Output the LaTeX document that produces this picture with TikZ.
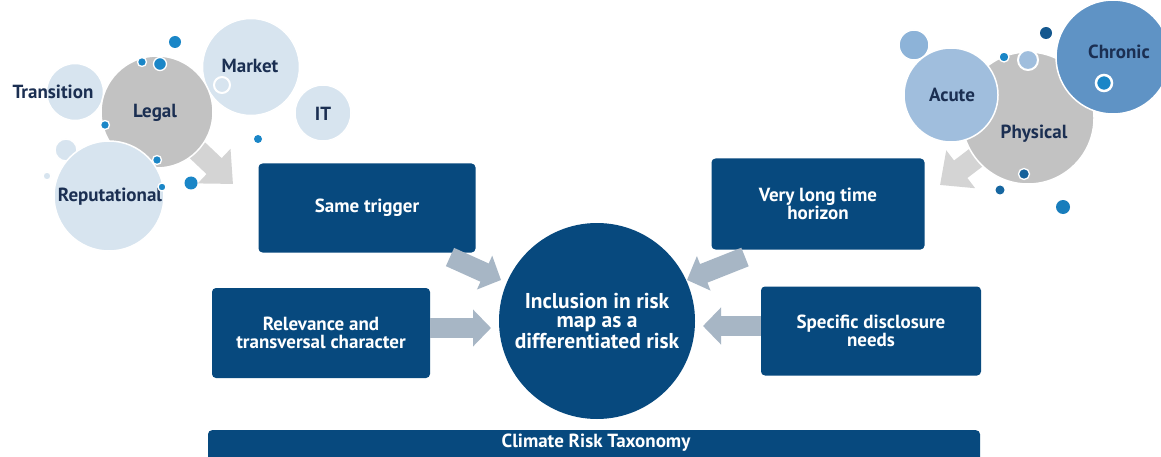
\documentclass[tikz,border=0pt]{standalone}
\usepackage{fontspec}
\setmainfont{PT Sans}
\usetikzlibrary{arrows.meta}
\definecolor{navy}{HTML}{07497E}
\definecolor{ink}{HTML}{1B2F52}
\definecolor{pale}{HTML}{D7E4EF}
\definecolor{stone}{HTML}{C2C2C2}
\definecolor{ash}{HTML}{D4D4D4}
\definecolor{steel}{HTML}{A7B6C5}
\definecolor{dotblue}{HTML}{1A86C7}
\definecolor{acuteblue}{HTML}{A0BEDD}
\definecolor{midblue}{HTML}{8DB3D8}
\definecolor{chronicblue}{HTML}{5F93C5}
\definecolor{deepdot}{HTML}{14588F}
\begin{document}
\begin{tikzpicture}[x=1pt,y=-1pt,
  bubble/.style={circle,draw=white,line width=1.5pt,inner sep=0pt,minimum size=#1},
  label/.style={font=\bfseries\fontsize{19}{20}\selectfont,text=ink},
  dot/.style={circle,fill=dotblue,draw=white,line width=1.3pt,inner sep=0pt,minimum size=#1},
  ring/.style={circle,fill=pale,draw=white,line width=2pt,inner sep=0pt,minimum size=#1},
  box/.style={rounded corners=4pt,fill=navy,text=white,align=center,
    font=\bfseries\fontsize{19}{18}\selectfont,inner sep=0pt},
  block/.style={line width=20pt,draw=steel,-{Triangle[width=36pt,length=18pt]}},
  bigarrow/.style={line width=22pt,draw=ash,-{Triangle[width=46pt,length=26pt]}}]
\useasboundingbox[fill=white] (0,0) rectangle (1161,457);

% ---------- transition risk cluster ----------
\coordinate (legalarrowtip) at (233,184);
\node[bubble=22pt,fill=pale] (lsmall) at (66,150) {};
\node[bubble=8pt,fill=pale] (ltiny) at (47,176) {};
\node[bubble=57pt,fill=pale] (transition) at (75,92) {};
\node[bubble=97pt,fill=pale] (market) at (251,67) {};
\node[bubble=56pt,fill=pale] (it) at (323,113) {};
\draw[bigarrow] (157,112) -- (legalarrowtip);
\node[bubble=112pt,fill=stone] (legal) at (157,112) {};
\node[bubble=110pt,fill=pale] (reputational) at (109,196) {};
\node[label] at (53,92) {Transition};
\node[label] at (155,113) {Legal};
\node[label] at (250,66) {Market};
\node[label] at (323,114) {IT};
\node[label] at (110,197) {Reputational};
\node[ring=16pt] (mring) at (222,85) {};
\node[dot=12pt,draw=none] at (175,42) {};
\node[dot=9pt] at (142,62) {};
\node[dot=13pt] at (160,64) {};
\node[dot=9pt] at (105,125) {};
\node[dot=9pt] at (157,160) {};
\node[dot=8pt] at (162,187) {};
\node[dot=13pt,draw=none] at (191,183) {};
\node[dot=8pt,draw=none] at (258,139) {};

% ---------- physical risk cluster ----------
\coordinate (physarrowtip) at (940,185);
\node[bubble=30pt,fill=midblue] (psmall) at (914,45) {};
\draw[bigarrow] (1028,118) -- (physarrowtip);
\node[bubble=132pt,fill=stone] (physical) at (1028,118) {};
\node[bubble=94pt,fill=acuteblue] (acute) at (951,95) {};
\node[bubble=114pt,fill=chronicblue] (chronic) at (1113,57) {};
\node[label] at (952,95) {Acute};
\node[label] at (1034,134) {Physical};
\node[label] at (1119,52) {Chronic};
\node[circle,fill=deepdot,inner sep=0pt,minimum size=12pt] at (1046,33) {};
\node[dot=10pt] at (1004,57) {};
\node[ring=20pt,fill=acuteblue] at (1028,60) {};
\node[dot=16pt,draw=white,line width=2.5pt] at (1104,83) {};
\node[dot=11pt,fill=deepdot!80!dotblue] at (1024,174) {};
\node[dot=9pt,draw=none,fill=deepdot!70!dotblue] at (1000,190) {};
\node[dot=14pt,draw=none,fill=dotblue!80!deepdot] at (1063,207) {};

% ---------- central map ----------
\node[circle,fill=navy,text=white,inner sep=0pt,minimum size=196pt,align=center,
  font=\bfseries\fontsize{21.5}{19.5}\selectfont] (core) at (597,321)
  {Inclusion in risk\\map as a\\differentiated risk};
\node[box,minimum width=217pt,minimum height=89pt] (trigger) at (367,208) {Same trigger};
\node[box,minimum width=213pt,minimum height=91pt] (horizon) at (818,204) {Very long time\\horizon};
\node[box,minimum width=218pt,minimum height=90pt] (relevance) at (321,333) {Relevance and\\transversal character};
\node[box,minimum width=220pt,minimum height=89pt] (disclosure) at (871,331) {Specific disclosure\\needs};
\node[box,minimum width=772pt,minimum height=40pt,anchor=north] (taxonomy) at (594,430) {};
\node[font=\bfseries\fontsize{19}{20}\selectfont,text=white] at (596,443) {Climate Risk Taxonomy};

\coordinate (ttail) at (450,257);
\coordinate (ttip) at (501,280);
\coordinate (htail) at (745,257);
\coordinate (htip) at (687,280);
\coordinate (rtip) at (491,328);
\coordinate (dtip) at (703,326);
\draw[block] (ttail) -- (ttip);
\draw[block] (htail) -- (htip);
\draw[block] (relevance.east) ++(0,-5) -- (rtip);
\draw[block] (disclosure.west) ++(0,-5) -- (dtip);
\end{tikzpicture}
\end{document}
